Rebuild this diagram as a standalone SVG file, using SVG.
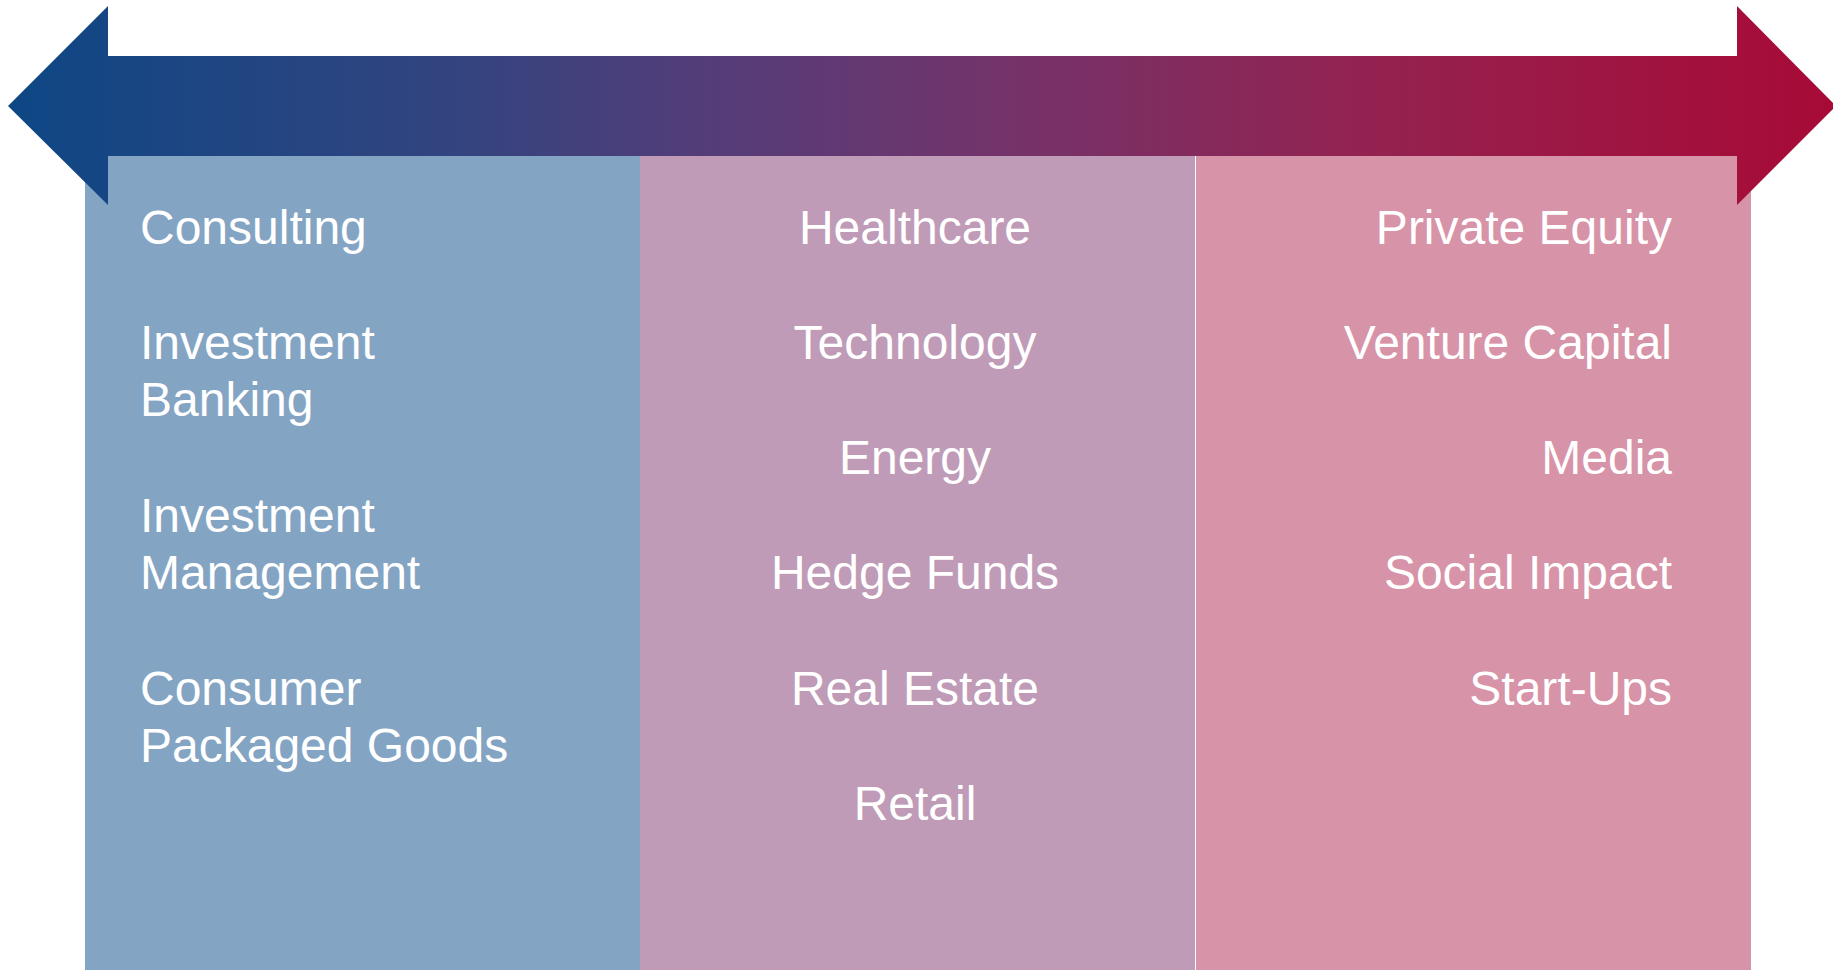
<svg xmlns="http://www.w3.org/2000/svg" width="1833" height="970" viewBox="0 0 1833 970">
<defs>
<linearGradient id="grad" x1="0" y1="0" x2="1833" y2="0" gradientUnits="userSpaceOnUse">
<stop offset="0" stop-color="#0D4785"/>
<stop offset="0.25" stop-color="#33447F"/>
<stop offset="0.4" stop-color="#573C78"/>
<stop offset="0.55" stop-color="#74336A"/>
<stop offset="0.75" stop-color="#942250"/>
<stop offset="1" stop-color="#A80A36"/>
</linearGradient>
<style>
text{font-family:"Liberation Sans",Arial,sans-serif;font-size:48px;fill:#FFFFFF}
.l{text-anchor:start}
.m{text-anchor:middle}
.r{text-anchor:end}
</style>
</defs>
<rect width="1833" height="970" fill="#FFFFFF"/>
<g id="col-left">
<rect x="85" y="156" width="555" height="814" fill="#84A4C3"/>
<text class="l" x="140" y="244">Consulting</text>
<text class="l" x="140" y="358.6">Investment</text>
<text class="l" x="140" y="415.8">Banking</text>
<text class="l" x="140" y="531.6">Investment</text>
<text class="l" x="140" y="588.9">Management</text>
<text class="l" x="140" y="704.6">Consumer</text>
<text class="l" x="140" y="761.9">Packaged Goods</text>
</g>
<g id="col-middle">
<rect x="640" y="156" width="555" height="814" fill="#BF9BB7"/>
<text class="m" x="915" y="244">Healthcare</text>
<text class="m" x="915" y="359">Technology</text>
<text class="m" x="915" y="474">Energy</text>
<text class="m" x="915" y="589">Hedge Funds</text>
<text class="m" x="915" y="704.6">Real Estate</text>
<text class="m" x="915" y="820">Retail</text>
</g>
<g id="col-right">
<rect x="1195" y="156" width="556" height="814" fill="#D793A8"/>
<line x1="1195.5" y1="156" x2="1195.5" y2="970" stroke="#FFFFFF" stroke-width="1"/>
<text class="r" x="1672" y="244">Private Equity</text>
<text class="r" x="1672" y="359">Venture Capital</text>
<text class="r" x="1672" y="474">Media</text>
<text class="r" x="1672" y="589">Social Impact</text>
<text class="r" x="1672" y="704.6">Start-Ups</text>
</g>
<g id="connectors">
<polygon id="double-arrow" points="8,106 108,6 108,56 1737,56 1737,6 1836,106 1737,205 1737,156 108,156 108,205" fill="url(#grad)"/>
</g>
</svg>
